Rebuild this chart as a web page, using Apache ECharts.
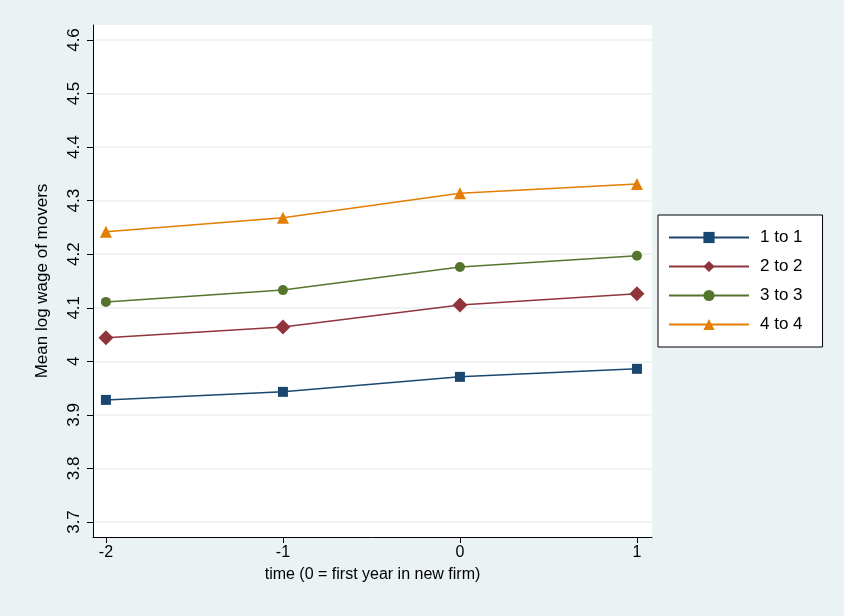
<!DOCTYPE html>
<html><head><meta charset="utf-8">
<script src="https://cdn.jsdelivr.net/npm/echarts@6/dist/echarts.min.js"></script>
<style>html,body{margin:0;background:#eaf2f3}#c{width:844px;height:616px}</style>
</head><body><div id="c"></div>
<script>
var times = [-2, -1, 0, 1];
var names = ["1 to 1", "2 to 2", "3 to 3", "4 to 4"];
var s11 = [3.928, 3.943, 3.971, 3.986];
var s22 = [4.044, 4.064, 4.105, 4.126];
var s33 = [4.111, 4.133, 4.176, 4.197];
var s44 = [4.242, 4.268, 4.314, 4.331];
var yTicks = [3.7, 3.8, 3.9, 4, 4.1, 4.2, 4.3, 4.4, 4.5, 4.6];
var xTicks = [-2, -1, 0, 1];

var colors = ["#1a476f", "#90353b", "#55752f", "#e37e00"];
var symbols = ["rect", "diamond", "circle", "triangle"];
var sizes = [10, 15, 10, 12];
var all = [s11, s22, s33, s44];

var series = all.map(function (d, i) {
    return {
        name: names[i], type: "line", symbol: symbols[i], symbolSize: sizes[i],
        data: d.map(function (v, j) { return [times[j], v]; }),
        lineStyle: {color: colors[i], width: 1.5},
        itemStyle: {color: colors[i]},
        animation: false
    };
});

var chart = echarts.init(document.getElementById("c"));
chart.setOption({
    backgroundColor: "#eaf2f3",
    textStyle: {fontFamily: "Liberation Sans, Arial"},
    grid: {left: 93, top: 25, width: 559, height: 512, backgroundColor: "#fff", show: true, borderWidth: 0},
    legend: {
        orient: "vertical", left: 658, top: 215,
        backgroundColor: "#fff", borderColor: "#000", borderWidth: 1,
        padding: [14, 20, 14, 10], itemGap: 12, itemWidth: 80, itemHeight: 14,
        textStyle: {fontSize: 17, color: "#000", padding: [0, 0, 0, 6]},
        data: names
    },
    xAxis: {
        type: "value", min: -2.073, max: 1.085,
        name: "time (0 = first year in new firm)", nameLocation: "middle", nameGap: 30,
        nameTextStyle: {fontSize: 16, color: "#000"},
        axisLine: {onZero: false, lineStyle: {color: "#000"}},
        axisTick: {customValues: xTicks, length: 6, lineStyle: {color: "#000"}},
        axisLabel: {customValues: xTicks, fontSize: 16, color: "#000"},
        splitLine: {show: false}
    },
    yAxis: {
        type: "value", min: 3.672, max: 4.628,
        name: "Mean log wage of movers", nameLocation: "middle", nameGap: 42,
        nameTextStyle: {fontSize: 17, color: "#000"},
        axisLine: {onZero: false, lineStyle: {color: "#000"}},
        axisTick: {customValues: yTicks, length: 6, lineStyle: {color: "#000"}},
        axisLabel: {customValues: yTicks, fontSize: 17, color: "#000", rotate: 90, margin: 10,
            formatter: function (v) { return String(Math.round(v * 10) / 10); }},
        splitLine: {show: true, lineStyle: {color: "#eaf2f3", width: 1.5}}
    },
    series: series
});
</script></body></html>
